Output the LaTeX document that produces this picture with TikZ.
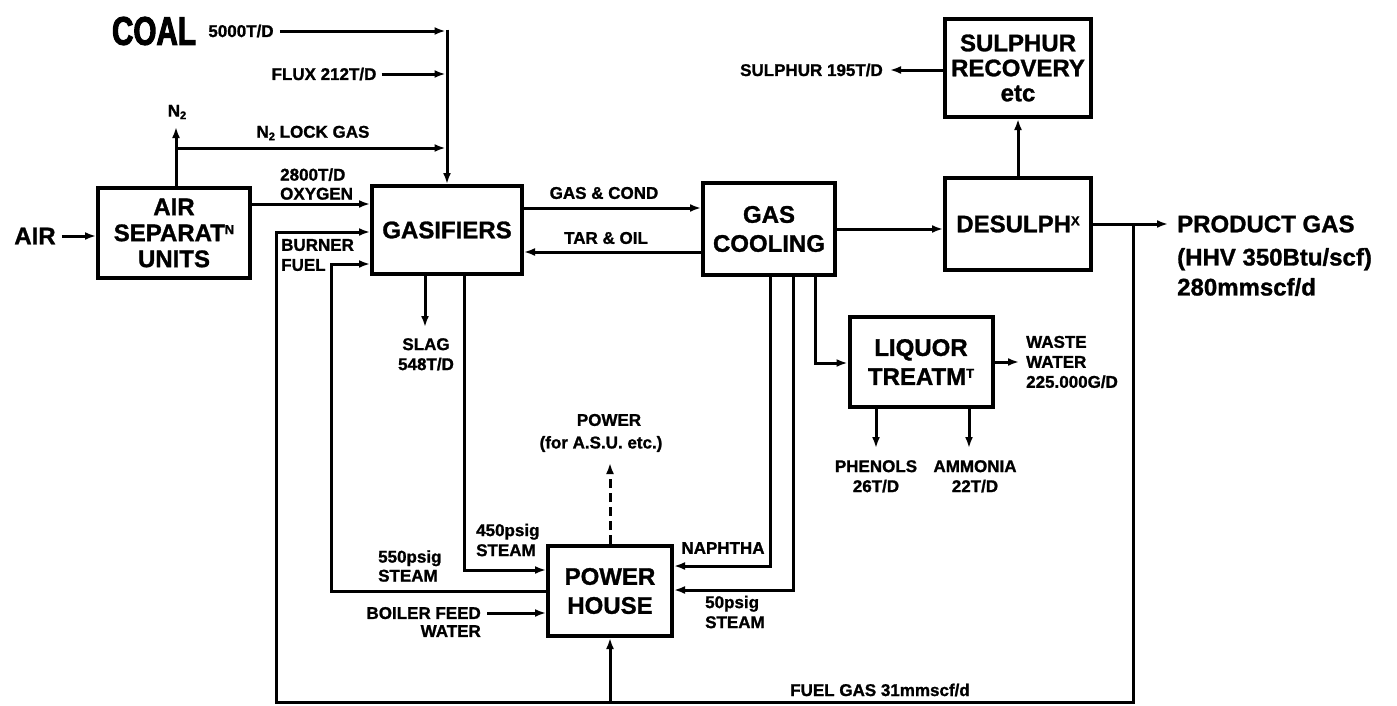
\documentclass[tikz,border=0pt]{standalone}
\usepackage{fontspec}
\usepackage{graphicx}
\setmainfont[BoldFeatures={FakeBold=1.2}]{Liberation Sans}
\newfontfamily\mycoalfont[FakeStretch=0.74, BoldFeatures={FakeBold=2.5}]{Liberation Sans}
\usetikzlibrary{arrows.meta,calc}
\newcommand\myboxfont{\fontsize{24}{29}\selectfont\bfseries}
\newcommand\mylblfont{\fontsize{17}{20}\selectfont\bfseries}
\newcommand\mysupr[1]{\raisebox{7pt}{\fontsize{13}{13}\selectfont #1}}
\newcommand\mysubr[1]{\raisebox{-2.5pt}{\fontsize{11}{11}\selectfont #1}}
\tikzset{
  box/.style={draw, line width=4pt, inner sep=0pt, align=center, font=\myboxfont},
  ln/.style={line width=3pt},
  arr/.style={ln, -{Latex[length=11pt,width=8pt]}},
  lbl/.style={font=\mylblfont, inner sep=0pt},
  bigtxt/.style={font=\fontsize{24}{30}\selectfont\bfseries, inner sep=0pt},
}
\begin{document}
\begin{tikzpicture}[x=1pt,y=-1pt]
\useasboundingbox (0,0) rectangle (1397,705);
% ---------- boxes
\node[box, minimum width=152, minimum height=90, font=\fontsize{24}{26}\selectfont\bfseries] (asu) at (174,233) {AIR\\SEPARAT\mysupr{N}\\UNITS};
\node[box, minimum width=150, minimum height=88] (gas) at (447,230) {GASIFIERS};
\node[box, minimum width=132, minimum height=92] (gc) at (769,229) {GAS\\COOLING};
\node[box, minimum width=146, minimum height=92] (des) at (1018,224) {DESULPH\mysupr{X}};
\node[box, minimum width=146, minimum height=98, font=\fontsize{24}{25}\selectfont\bfseries] (sr) at (1018,68) {SULPHUR\\RECOVERY\\etc};
\node[box, minimum width=143, minimum height=90] (lt) at (921,362) {LIQUOR\\TREATM\mysupr{T}};
\node[box, minimum width=124, minimum height=90] (ph) at (610,591) {POWER\\HOUSE};
% ---------- coordinates
\coordinate (ccorner) at (447,31);
\coordinate (jn) at (176,148);
\coordinate (n2tip) at (176,127);
\coordinate (jf) at (1133,224);
\coordinate (fl) at (276,702);
\coordinate (sx) at (331,264);
\coordinate (s4) at (464,570);
\coordinate (slagtip) at (425,327);
\coordinate (ptip) at (610,463);
\coordinate (nx) at (770,566);
\coordinate (s50) at (793,590);
\coordinate (lq) at (815,363);
\coordinate (phtip) at (876,448);
\coordinate (amtip) at (969,448);
% ---------- labels
\node[bigtxt] (air) at (35,236) {AIR};
\node[inner sep=0pt, font=\fontsize{40}{40}\mycoalfont\bfseries] (coal) at (154,31) {COAL};
\node[lbl] (c5000) at (241,31) {5000T/D};
\node[lbl] (flux) at (324,74) {FLUX 212T/D};
\node[lbl] (n2) at (177,112) {N\mysubr{2}};
\node[lbl] (lock) at (313,133) {N\mysubr{2} LOCK GAS};
\node[lbl, align=left, anchor=west, font=\fontsize{17}{19}\selectfont\bfseries] (oxy) at (280,184) {2800T/D\\OXYGEN};
\node[lbl, align=left, anchor=west] (burn) at (281,255) {BURNER\\FUEL};
\node[lbl] (gcl) at (604,193) {GAS \& COND};
\node[lbl] (tol) at (606,238) {TAR \& OIL};
\node[lbl, anchor=east] (sul) at (883,70) {SULPHUR 195T/D};
\node[bigtxt, anchor=west] (prod) at (1177,224) {PRODUCT GAS};
\node[bigtxt, anchor=west, align=left] (prod2) at (1177,272) {(HHV 350Btu/scf)\\280mmscf/d};
\node[lbl, align=center, anchor=north] (slag) at (426,338) {SLAG\\548T/D};
\node[lbl] (pwr) at (609,420) {POWER};
\node[lbl] (pwr2) at (601,444) {(for A.S.U. etc.)};
\node[lbl, align=left, anchor=west] (s4l) at (476,540) {450psig\\STEAM};
\node[lbl, align=left, anchor=west, font=\fontsize{17}{19}\selectfont\bfseries] (s5l) at (378,566) {550psig\\STEAM};
\node[lbl, align=right, anchor=east, font=\fontsize{17}{18}\selectfont\bfseries] (bfw) at (481,622) {BOILER FEED\\WATER};
\node[lbl] (nap) at (723,548) {NAPHTHA};
\node[lbl, align=left, anchor=west] (s50l) at (705,612) {50psig\\STEAM};
\node[lbl, align=left, anchor=west] (ww) at (1026,362) {WASTE\\WATER\\225.000G/D};
\node[lbl, align=center, anchor=north] (phen) at (876,460) {PHENOLS\\26T/D};
\node[lbl, align=center, anchor=north] (amm) at (975,460) {AMMONIA\\22T/D};
\node[lbl] (fuel) at (880,690) {FUEL GAS 31mmscf/d};
% ---------- connectors
\draw[arr] ([xshift=6pt]air.east) -- (air.east -| asu.west);
\draw[arr] ([xshift=6pt]c5000.east) -- ([xshift=-1.5pt]ccorner);
\draw[arr] ([yshift=1.5pt]ccorner) -- (gas.north);
\draw[arr, shorten >=1.5pt] ([xshift=5pt]flux.east) -- (flux.east -| ccorner);
\draw[arr] (asu.north -| jn) -- (n2tip);
\draw[arr, shorten >=1.5pt] (jn) -- (jn -| ccorner);
\draw[arr] ([yshift=29pt]asu.east) coordinate (oxa) -- (oxa -| gas.west);
\draw[arr] ([yshift=22pt]gas.east) coordinate (gca) -- (gca -| gc.west);
\draw[arr] ([yshift=-23pt]gc.west) coordinate (toa) -- (toa -| gas.east);
\draw[arr] (gc.east) -- (gc.east -| des.west);
\draw[arr] (des.north) -- (sr.south);
\draw[arr] (sr.west |- sul) -- ([xshift=7pt]sul.east);
\draw[arr] (des.east) -- ([xshift=-9pt]prod.west);
% fuel gas loop
\draw[arr] (jf) |- (fl) |- ([yshift=-2pt]gas.west);
\draw[arr] (ph.south |- fl) -- (ph.south);
% steam loops
\draw[arr] (ph.west) -| (sx) -- (sx -| gas.west);
\draw[arr] (gas.south -| s4) |- (ph.west |- s4);
\draw[arr] (gas.south -| slagtip) -- (slagtip);
\draw[arr] ([shift={(6pt,9pt)}]bfw.east) coordinate (bfa) -- (bfa -| ph.west);
\draw[arr, dash pattern=on 9pt off 5pt] (ph.north) -- (ptip);
% gas cooling outlets
\draw[arr] (gc.south -| nx) |- (ph.east |- nx);
\draw[arr] (gc.south -| s50) |- (ph.east |- s50);
\draw[arr] (gc.south -| lq) |- (lt.west |- lq);
% liquor treatment outlets
\draw[arr] (lt.east) -- ([xshift=-7pt]ww.west);
\draw[arr] (lt.south -| phtip) -- (phtip);
\draw[arr] (lt.south -| amtip) -- (amtip);
\end{tikzpicture}
\end{document}
